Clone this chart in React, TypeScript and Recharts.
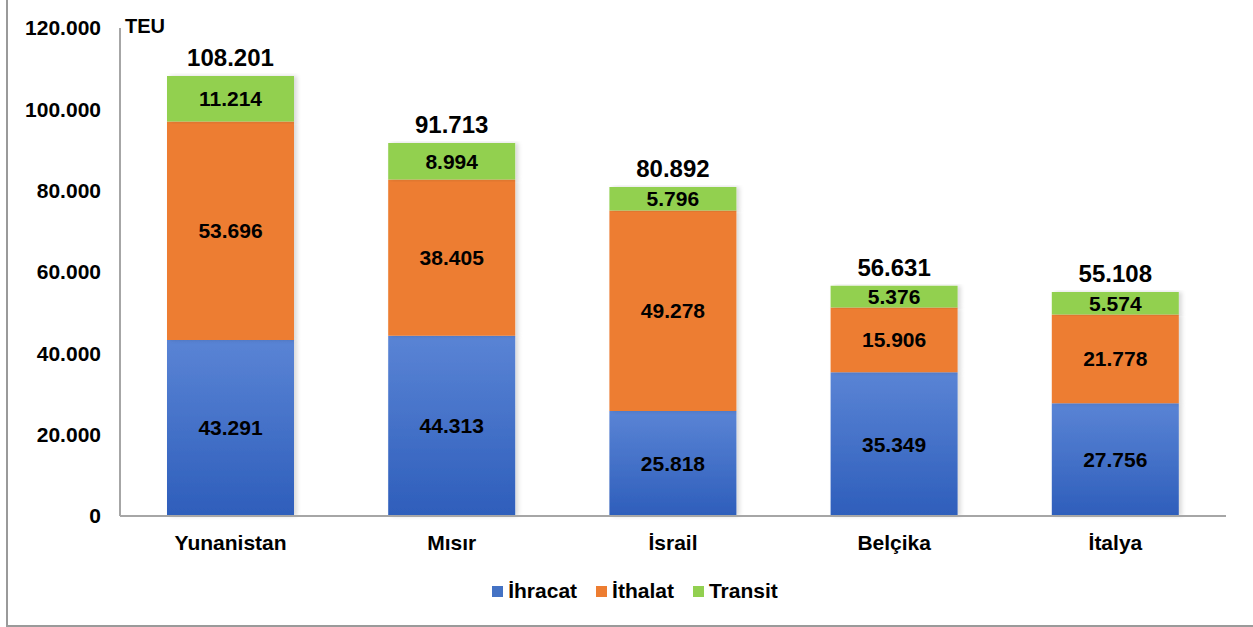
import React from 'react';
import { BarChart, Bar, XAxis, YAxis, LabelList, Legend } from 'recharts';

const categories = ['Yunanistan', 'Mısır', 'İsrail', 'Belçika', 'İtalya'];
const ihracat = [43291, 44313, 25818, 35349, 27756];
const ithalat = [53696, 38405, 49278, 15906, 21778];
const transit = [11214, 8994, 5796, 5376, 5574];
const totals = [108201, 91713, 80892, 56631, 55108];
const yTicks = [0, 20000, 40000, 60000, 80000, 100000, 120000];

const data = categories.map((c, i) => ({
  name: c,
  ihracat: ihracat[i],
  ithalat: ithalat[i],
  transit: transit[i],
  total: totals[i],
}));

const FONT = '"Liberation Sans", Arial, Helvetica, sans-serif';
const fmt = (v: any) => {
  const n = Number(v);
  if (n === 0) return '0';
  return String(n).replace(/\B(?=(\d{3})+(?!\d))/g, '.');
};

const legendItems = [
  { label: 'İhracat', color: '#4472C4' },
  { label: 'İthalat', color: '#ED7D31' },
  { label: 'Transit', color: '#92D050' },
];

const LegendContent = () => (
  <div style={{ display: 'flex', justifyContent: 'center', alignItems: 'center', height: 30, fontFamily: FONT, fontWeight: 'bold', fontSize: 21, color: '#000', paddingLeft: 44 }}>
    {legendItems.map((it, i) => (
      <div key={it.label} style={{ display: 'flex', alignItems: 'center', marginRight: i < 2 ? 19 : 0 }}>
        <span style={{ display: 'inline-block', width: 11, height: 11, background: it.color, marginRight: 5 }} />
        <span>{it.label}</span>
      </div>
    ))}
  </div>
);

const TeuLabel = (props: any) => {
  const vb = props.viewBox || {};
  return (
    <text x={(vb.x || 0) + (vb.width || 0) + 5} y={(vb.y || 0) + 5} fontFamily={FONT} fontWeight="bold" fontSize={20} fill="#000">
      TEU
    </text>
  );
};

export default function App() {
  return (
    <div style={{ position: 'absolute', left: 0, top: 0, width: 1253, height: 627, overflow: 'hidden', background: '#fff' }}>
      <div style={{ position: 'absolute', left: 6, top: -4, width: 1260, height: 631, boxSizing: 'border-box', border: '2px solid #9a9a9a' }} />
      <BarChart
        width={1253}
        height={627}
        data={data}
        margin={{ top: 28, right: 27, bottom: 21, left: 0 }}
        barSize={127}
        style={{ fontFamily: FONT }}
      >
        <defs>
          <linearGradient id="blueGrad" x1="0" y1="0" x2="0" y2="1">
            <stop offset="0%" stopColor="#5A84D5" />
            <stop offset="100%" stopColor="#2E5EBB" />
          </linearGradient>
          <filter id="shadow" x="-5%" y="-5%" width="115%" height="110%">
            <feDropShadow dx="3" dy="0" stdDeviation="2" floodColor="#000" floodOpacity="0.15" />
          </filter>
        </defs>
        <XAxis
          dataKey="name"
          axisLine={{ stroke: '#a6a6a6', strokeWidth: 2 }}
          tickLine={false}
          tickSize={0}
          tickMargin={19}
          height={60}
          tick={{ fill: '#000', fontSize: 21, fontWeight: 'bold', fontFamily: FONT }}
          interval={0}
        />
        <YAxis
          domain={[0, 120000]}
          ticks={yTicks}
          width={120}
          axisLine={{ stroke: '#a6a6a6', strokeWidth: 2 }}
          tickLine={false}
          tickSize={0}
          tickMargin={19}
          tickFormatter={fmt}
          tick={{ fill: '#000', fontSize: 21, fontWeight: 'bold', fontFamily: FONT }}
          label={<TeuLabel />}
        />
        <Legend verticalAlign="bottom" height={30} content={<LegendContent />} />
        <Bar dataKey="ihracat" name="İhracat" stackId="a" fill="url(#blueGrad)" isAnimationActive={false} filter="url(#shadow)">
          <LabelList dataKey="ihracat" position="center" formatter={fmt} fill="#000" fontSize={21} fontWeight="bold" fontFamily={FONT} />
        </Bar>
        <Bar dataKey="ithalat" name="İthalat" stackId="a" fill="#ED7D31" isAnimationActive={false} filter="url(#shadow)">
          <LabelList dataKey="ithalat" position="center" formatter={fmt} fill="#000" fontSize={21} fontWeight="bold" fontFamily={FONT} />
        </Bar>
        <Bar dataKey="transit" name="Transit" stackId="a" fill="#92D050" isAnimationActive={false} filter="url(#shadow)">
          <LabelList dataKey="transit" position="center" formatter={fmt} fill="#000" fontSize={21} fontWeight="bold" fontFamily={FONT} />
          <LabelList dataKey="total" position="top" offset={10} formatter={fmt} fill="#000" fontSize={24} fontWeight="bold" fontFamily={FONT} />
        </Bar>
      </BarChart>
    </div>
  );
}
